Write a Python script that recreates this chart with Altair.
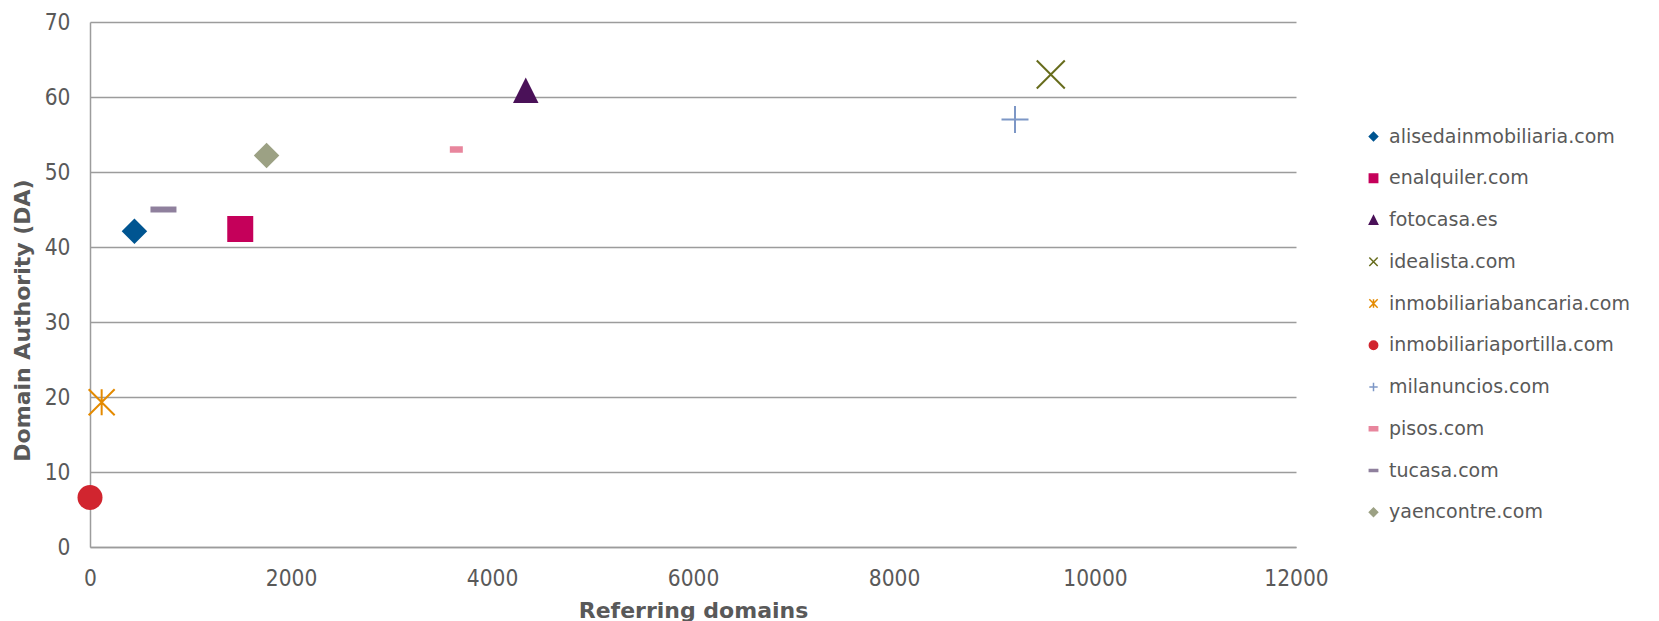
import altair as alt
import pandas as pd

# ---- data ----
sites = [
    "alisedainmobiliaria.com",
    "enalquiler.com",
    "fotocasa.es",
    "idealista.com",
    "inmobiliariabancaria.com",
    "inmobiliariaportilla.com",
    "milanuncios.com",
    "pisos.com",
    "tucasa.com",
    "yaencontre.com",
]
referring_domains = [442, 1495, 4336, 9560, 116, 0, 9204, 3645, 731, 1757]
domain_authority = [42.1, 42.4, 60.9, 63.0, 19.3, 6.6, 57.0, 53.0, 45.0, 52.2]

x_ticks = [0, 2000, 4000, 6000, 8000, 10000, 12000]
y_ticks = [0, 10, 20, 30, 40, 50, 60, 70]

# ---- styles (one per series) ----
colors = ["#005591", "#C5005A", "#4A1158", "#676C1C", "#E48A00",
          "#D1252F", "#7D97C6", "#E8869D", "#8F809D", "#9CA184"]
shapes = [
    "diamond",
    "square",
    "M0,-1L1,1L-1,1Z",
    "M-1,-1L1,1M-1,1L1,-1",
    "M-1,-1L1,1M-1,1L1,-1M0,-1L0,1",
    "circle",
    "M-1,0L1,0M0,-1L0,1",
    "M-1,-0.5L1,-0.5L1,0.5L-1,0.5Z",
    "M-1,-0.23L1,-0.23L1,0.23L-1,0.23Z",
    "diamond",
]
sizes = [650, 676, 650, 784, 676, 625, 729, 169, 676, 650]
stroke_widths = [0, 0, 0, 2, 2, 0, 2, 0, 0, 0]

df = pd.DataFrame({
    "site": sites,
    "x": referring_domains,
    "y": domain_authority,
    "sz": sizes,
    "sw": stroke_widths,
})

GRAY = "#9C9C9C"
TEXT = "#595959"

legend = alt.Legend(
    title=None,
    orient="none",
    legendX=1274,
    legendY=105,
    labelFont="DejaVu Sans",
    labelFontSize=19,
    labelColor=TEXT,
    labelLimit=0,
    symbolSize=70,
    symbolStrokeWidth=1.5,
    rowPadding=21.75,
    labelOffset=6,
    padding=0,
)

chart = alt.Chart(df).mark_point(opacity=1).encode(
    x=alt.X(
        "x:Q",
        scale=alt.Scale(domain=[0, 12000], nice=False, zero=True),
        axis=alt.Axis(
            values=x_ticks,
            format="d",
            grid=False,
            ticks=False,
            domain=True,
            domainColor=GRAY,
            domainWidth=1.5,
            labelFont="DejaVu Sans Condensed, Roboto",
            labelFontSize=22.5,
            labelColor=TEXT,
            labelPadding=20,
            labelFlush=False,
            title="Referring domains",
            titleFont="DejaVu Sans",
            titleFontSize=22,
            titleFontWeight="bold",
            titleColor=TEXT,
            titleX=603,
            titleY=70,
            titleBaseline="alphabetic",
            titleAlign="center",
        ),
    ),
    y=alt.Y(
        "y:Q",
        scale=alt.Scale(domain=[0, 70], nice=False),
        axis=alt.Axis(
            values=y_ticks,
            format="d",
            grid=True,
            gridColor=GRAY,
            gridWidth=1.5,
            ticks=False,
            domain=True,
            domainColor=GRAY,
            domainWidth=1.5,
            labelFont="DejaVu Sans Condensed, Roboto",
            labelFontSize=22.5,
            labelColor=TEXT,
            labelPadding=20,
            labelFlush=False,
            title="Domain Authority (DA)",
            titleFont="DejaVu Sans",
            titleFontSize=22,
            titleFontWeight="bold",
            titleColor=TEXT,
            titleAngle=270,
            titleX=-68,
            titleY=298,
            titleBaseline="middle",
            titleAlign="center",
        ),
    ),
    shape=alt.Shape("site:N", sort=sites,
                    scale=alt.Scale(domain=sites, range=shapes), legend=legend),
    fill=alt.Fill("site:N", sort=sites,
                  scale=alt.Scale(domain=sites, range=colors), legend=legend),
    stroke=alt.Stroke("site:N", sort=sites,
                      scale=alt.Scale(domain=sites, range=colors), legend=legend),
    size=alt.Size("sz:Q", scale=None),
    strokeWidth=alt.StrokeWidth("sw:Q", scale=None),
).properties(
    width=1206,
    height=525,
    background="white",
    autosize=alt.AutoSizeParams(type="none"),
    padding={"left": 82, "top": 14, "right": 355, "bottom": 74},
).configure_view(
    stroke=None
)

chart.save("out.html", embed_options={"renderer": "svg", "actions": False})
